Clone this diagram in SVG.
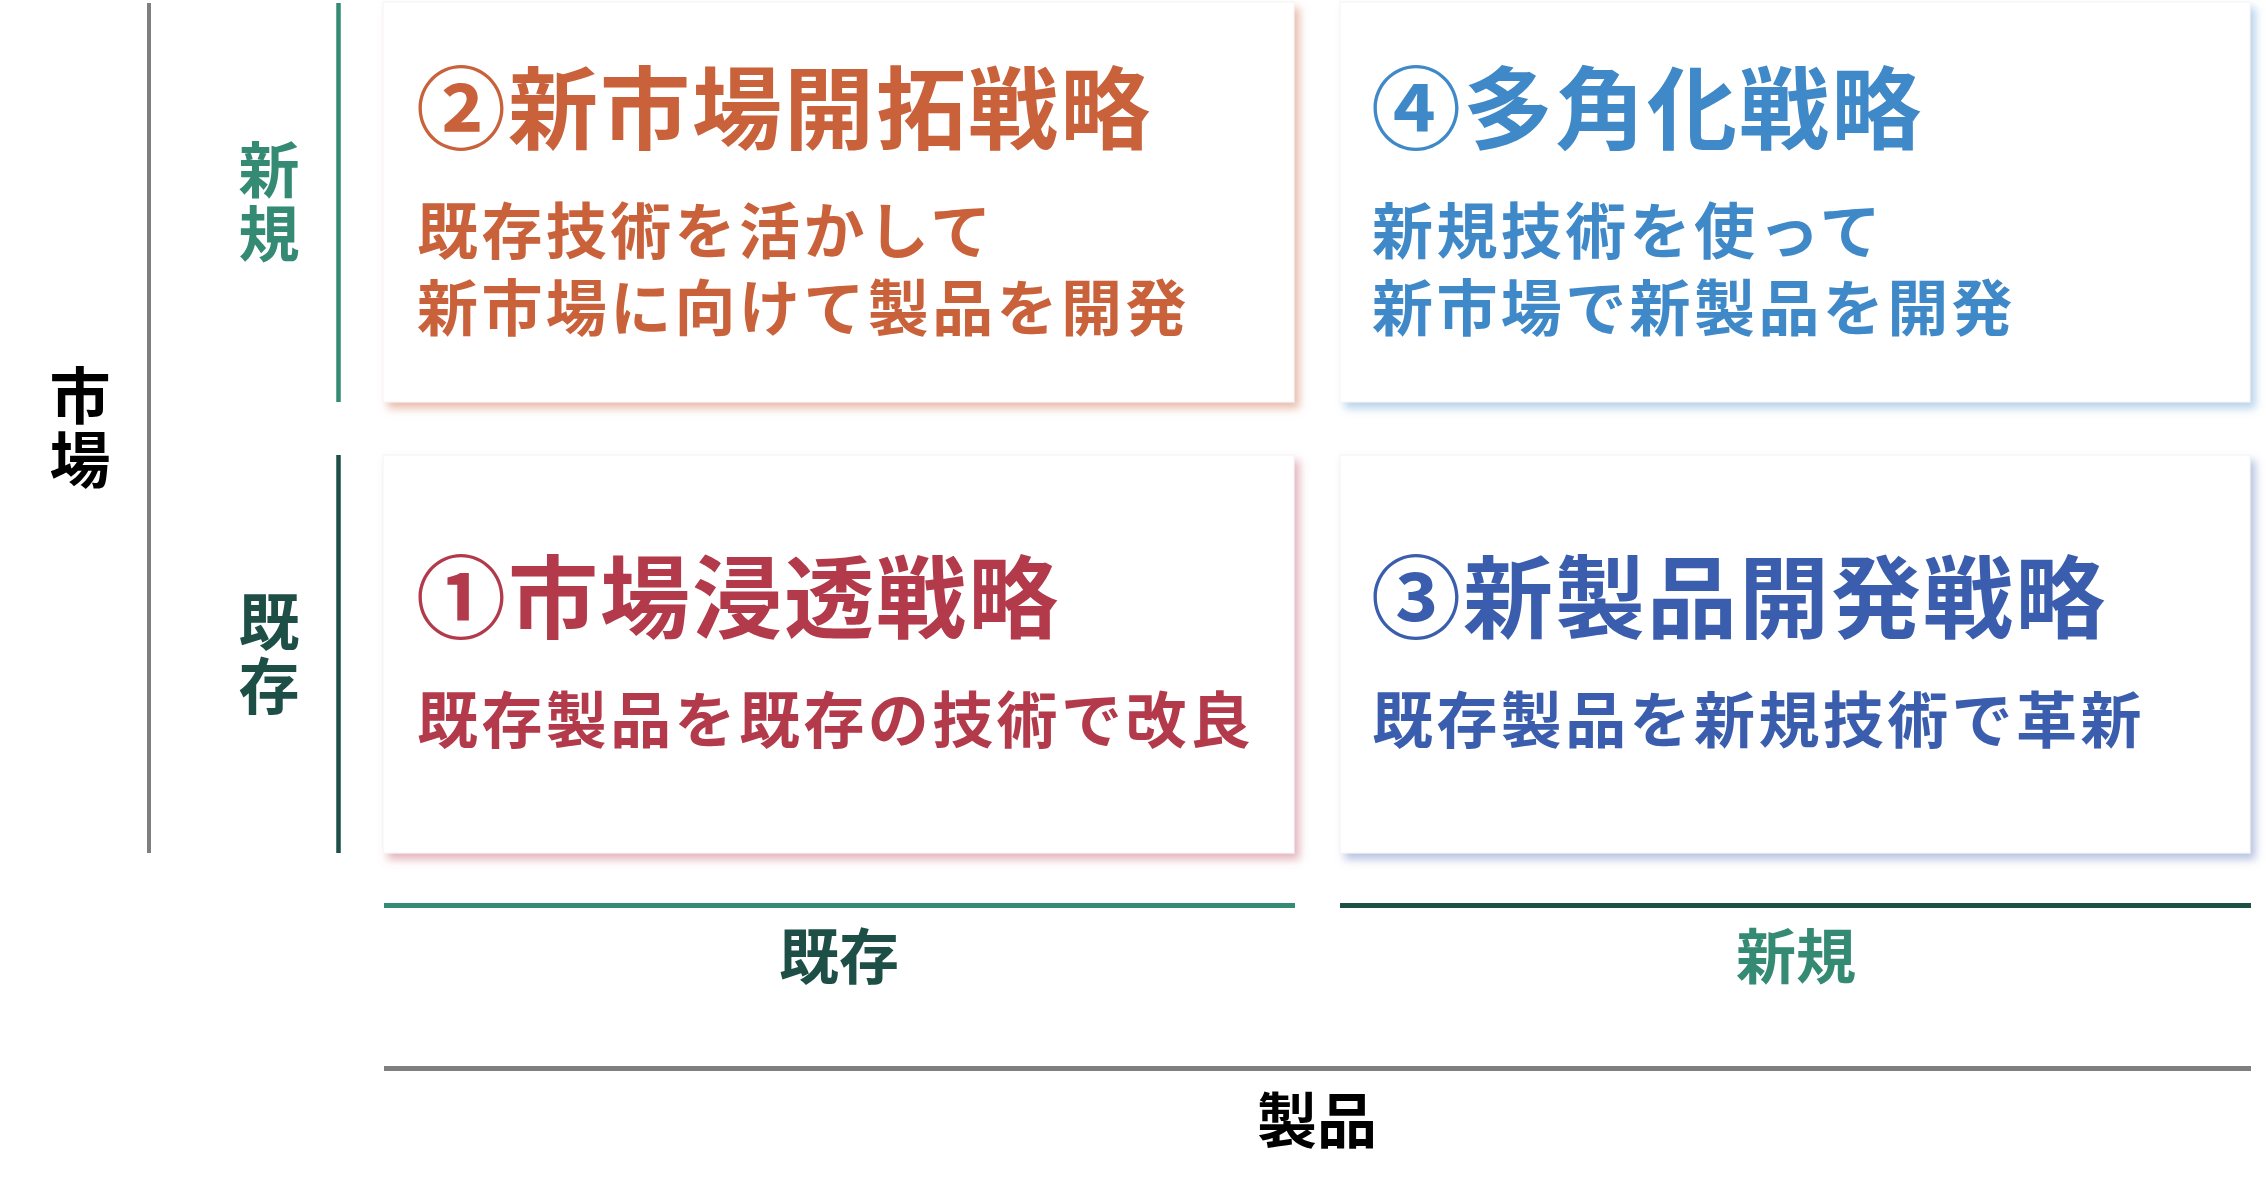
<svg xmlns="http://www.w3.org/2000/svg" width="2266" height="1200" viewBox="0 0 2266 1200">
  <defs>
    <filter id="shOrange" x="-5%" y="-5%" width="112%" height="115%">
      <feDropShadow dx="5" dy="6" stdDeviation="4" flood-color="#d9876a" flood-opacity="0.55"/>
    </filter>
    <filter id="shRed" x="-5%" y="-5%" width="112%" height="115%">
      <feDropShadow dx="5" dy="6" stdDeviation="4" flood-color="#c9697a" flood-opacity="0.5"/>
    </filter>
    <filter id="shSky" x="-5%" y="-5%" width="112%" height="115%">
      <feDropShadow dx="5" dy="6" stdDeviation="4" flood-color="#6fa6d8" flood-opacity="0.5"/>
    </filter>
    <filter id="shNavy" x="-5%" y="-5%" width="112%" height="115%">
      <feDropShadow dx="5" dy="6" stdDeviation="4" flood-color="#6d86c6" flood-opacity="0.5"/>
    </filter>
  </defs>
  <style>
    text { font-family: "Noto Sans CJK JP", "Noto Sans CJK SC", sans-serif; font-weight: 700; }
    .box { fill: #ffffff; stroke: #f4f4f4; stroke-width: 1; }
    .title { font-size: 90px; letter-spacing: 2px; }
    .body { font-size: 61px; letter-spacing: 3.4px; }
    .axis { font-size: 61px; text-anchor: middle; }
    .axisB { font-size: 60px; text-anchor: middle; }
    .orange { fill: #c9623b; }
    .red { fill: #b23a4a; }
    .sky { fill: #3f89c9; }
    .navy { fill: #3a5ead; }
    .green { fill: #358a74; }
    .dark { fill: #1d4f47; }
  </style>
  <rect width="2266" height="1200" fill="#ffffff"/>

  <g id="connectors">
    <line x1="149" y1="3" x2="149" y2="853" stroke="#7f7f7f" stroke-width="4"/>
    <line x1="338.5" y1="3" x2="338.5" y2="402" stroke="#358a74" stroke-width="4.5"/>
    <line x1="338.5" y1="455" x2="338.5" y2="853" stroke="#1d4f47" stroke-width="4.5"/>
    <line x1="384" y1="905.5" x2="1295" y2="905.5" stroke="#358a74" stroke-width="5"/>
    <line x1="1340" y1="905.5" x2="2251" y2="905.5" stroke="#1d4f47" stroke-width="5"/>
    <line x1="384" y1="1068.5" x2="2251" y2="1068.5" stroke="#7f7f7f" stroke-width="5"/>
  </g>

  <g id="axis-market">
    <text class="axis" x="80" y="419" fill="#000000">市</text>
    <text class="axis" x="80" y="483" fill="#000000">場</text>
  </g>
  <g id="axis-market-new">
    <text class="axis green" x="269" y="193">新</text>
    <text class="axis green" x="269" y="257">規</text>
  </g>
  <g id="axis-market-existing">
    <text class="axis dark" x="269" y="645">既</text>
    <text class="axis dark" x="269" y="709">存</text>
  </g>

  <g id="node-2">
    <rect class="box" x="383" y="2" width="911" height="400" filter="url(#shOrange)"/>
    <text class="title orange" x="416" y="142">②新市場開拓戦略</text>
    <text class="body orange" x="417" y="254">既存技術を活かして</text>
    <text class="body orange" x="417" y="331">新市場に向けて製品を開発</text>
  </g>
  <g id="node-4">
    <rect class="box" x="1340" y="2" width="910" height="400" filter="url(#shSky)"/>
    <text class="title sky" x="1371" y="142">④多角化戦略</text>
    <text class="body sky" x="1372" y="254">新規技術を使って</text>
    <text class="body sky" x="1372" y="331">新市場で新製品を開発</text>
  </g>
  <g id="node-1">
    <rect class="box" x="383" y="455" width="911" height="398" filter="url(#shRed)"/>
    <text class="title red" x="416" y="631">①市場浸透戦略</text>
    <text class="body red" x="417" y="743">既存製品を既存の技術で改良</text>
  </g>
  <g id="node-3">
    <rect class="box" x="1340" y="455" width="910" height="398" filter="url(#shNavy)"/>
    <text class="title navy" x="1371" y="631">③新製品開発戦略</text>
    <text class="body navy" x="1372" y="743">既存製品を新規技術で革新</text>
  </g>

  <g id="axis-product-existing">
    <text class="axisB dark" x="839" y="979">既存</text>
  </g>
  <g id="axis-product-new">
    <text class="axisB green" x="1796" y="979">新規</text>
  </g>
  <g id="axis-product">
    <text class="axisB" x="1317" y="1143" fill="#000000">製品</text>
  </g>
</svg>
